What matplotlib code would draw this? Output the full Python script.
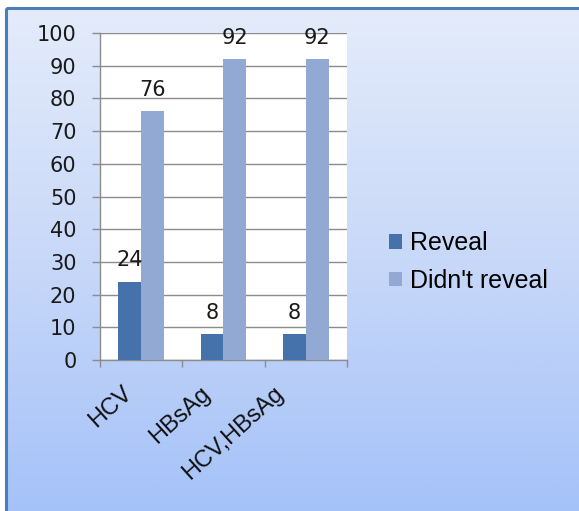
import numpy as np
import matplotlib
matplotlib.use("Agg")
import matplotlib.pyplot as plt
import matplotlib.transforms as mtransforms
from matplotlib.colors import LinearSegmentedColormap
from matplotlib.patches import Rectangle

# --- Data ---
categories = ["HCV", "HBsAg", "HCV,HBsAg"]
reveal = [24, 8, 8]
didnt_reveal = [76, 92, 92]
series_names = ["Reveal", "Didn't reveal"]
yticks = np.arange(0, 101, 10)

# --- Style ---
DARK = "#4572AB"
LIGHT = "#92A9D3"
GRID = "#8C8C8C"
W, H = 579, 511

fig = plt.figure(figsize=(W / 100, H / 100), dpi=100)

# chart-area background: vertical gradient with a dark blue frame
bg = fig.add_axes([0, 0, 1, 1], zorder=-5)
bg.set_xlim(0, W)
bg.set_ylim(H, 0)
bg.axis("off")
grad = LinearSegmentedColormap.from_list("bg", ["#E4ECFB", "#C8D8F8", "#A5C2F8"])
bg.imshow(np.linspace(0, 1, 256).reshape(-1, 1), cmap=grad, aspect="auto",
          extent=(6, W, H, 9), zorder=0)
bg.add_patch(Rectangle((5.5, 8.5), W + 10, H + 10, fill=False,
                       edgecolor="#4A7EBB", linewidth=2.2, zorder=2))

# plot area
ax = fig.add_axes([100 / W, 1 - 360 / H, 247 / W, 327 / H])
ax.set_facecolor("white")

x = np.arange(len(categories))
w = 0.277
bars_r = ax.bar(x - w / 2, reveal, w, color=DARK, label=series_names[0], zorder=3)
bars_d = ax.bar(x + w / 2, didnt_reveal, w, color=LIGHT, label=series_names[1], zorder=3)

for bars, vals in [(bars_r, reveal), (bars_d, didnt_reveal)]:
    for b, v in zip(bars, vals):
        ax.annotate(f"{v}", (b.get_x() + b.get_width() / 2, v),
                    xytext=(0, 11), textcoords="offset points",
                    ha="center", va="baseline", fontsize=15,
                    family="DejaVu Sans", color="#1A1A1A")

ax.set_xlim(-0.5, len(categories) - 0.5)
ax.set_ylim(0, 100)
ax.set_yticks(yticks)
ax.set_yticklabels([str(t) for t in yticks], fontsize=15, family="DejaVu Sans",
                   color="#1A1A1A")
ax.yaxis.grid(True, color=GRID, linewidth=1.0, zorder=1)
ax.set_axisbelow(True)

# category labels at centres, tick marks on category boundaries
ax.set_xticks(x)
ax.set_xticklabels(categories, rotation=42, ha="right", va="center",
                   rotation_mode="anchor", fontsize=17,
                   family="Liberation Sans", color="#111111")
ax.tick_params(axis="x", which="major", length=0, pad=22)
ax.set_xticks(np.arange(-0.5, len(categories)), minor=True)
ax.tick_params(axis="x", which="minor", length=5, color=GRID, width=1)
ax.tick_params(axis="y", length=6, color=GRID, width=1, pad=11)

for s in ["top", "right"]:
    ax.spines[s].set_visible(False)
for s in ["left", "bottom"]:
    ax.spines[s].set_color(GRID)
    ax.spines[s].set_linewidth(1.0)

leg = ax.legend(loc="center left", bbox_to_anchor=(389 / W, 1 - 262 / H),
                bbox_transform=fig.transFigure, frameon=False,
                prop={"family": "Liberation Sans", "size": 18},
                handlelength=0.52, handleheight=0.52, handletextpad=0.3,
                labelspacing=0.55, borderpad=0, borderaxespad=0)

# longer slanted labels sit further left of their category centre
fig.canvas.draw()
renderer = fig.canvas.get_renderer()
for lbl in ax.get_xticklabels():
    shift = 0.23 * lbl.get_window_extent(renderer).width
    lbl.set_transform(lbl.get_transform() +
                      mtransforms.ScaledTranslation(-shift / 100, 0, fig.dpi_scale_trans))

fig.savefig("out.png", dpi=100)
